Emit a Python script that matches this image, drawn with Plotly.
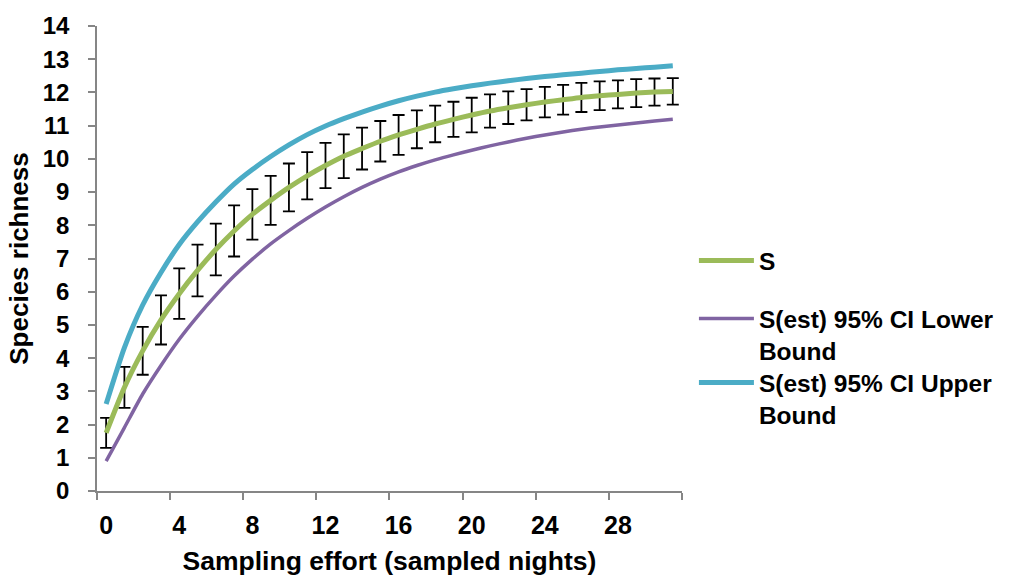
import plotly.graph_objects as go

# Sampled nights (category positions) and richness estimates
nights = list(range(32))
tick_labels = ["0", "4", "8", "12", "16", "20", "24", "28"]
tick_positions = [0, 4, 8, 12, 16, 20, 24, 28]

s_obs = [1.75, 3.12, 4.22, 5.15, 5.94, 6.64, 7.27, 7.83, 8.33, 8.75,
         9.14, 9.49, 9.80, 10.08, 10.31, 10.53, 10.72, 10.89, 11.05, 11.19,
         11.32, 11.44, 11.54, 11.63, 11.71, 11.78, 11.85, 11.90, 11.94, 11.98,
         12.01, 12.03]
s_err = [0.45, 0.62, 0.72, 0.74, 0.76, 0.78, 0.78, 0.77, 0.76, 0.74,
         0.72, 0.71, 0.68, 0.66, 0.63, 0.61, 0.60, 0.57, 0.55, 0.53,
         0.52, 0.50, 0.49, 0.47, 0.46, 0.45, 0.44, 0.43, 0.42, 0.42,
         0.41, 0.40]
ci_lower = [0.90, 1.91, 2.92, 3.78, 4.57, 5.26, 5.89, 6.47, 6.98, 7.44,
            7.84, 8.21, 8.55, 8.86, 9.14, 9.39, 9.61, 9.80, 9.97, 10.12,
            10.26, 10.39, 10.51, 10.62, 10.72, 10.81, 10.89, 10.96, 11.02, 11.08,
            11.14, 11.19]
ci_upper = [2.62, 4.32, 5.60, 6.58, 7.42, 8.10, 8.70, 9.24, 9.68, 10.07,
            10.42, 10.73, 10.99, 11.21, 11.41, 11.59, 11.75, 11.89, 12.01, 12.11,
            12.20, 12.28, 12.35, 12.42, 12.48, 12.53, 12.58, 12.63, 12.68, 12.72,
            12.76, 12.80]

GREEN = "#9BBB59"
PURPLE = "#8064A2"
CYAN = "#4BACC6"
AXIS = "#868686"
FONT = "Liberation Sans, Arial, sans-serif"

fig = go.Figure()
fig.add_trace(go.Scatter(
    x=nights, y=s_obs, mode="lines", name="S",
    line=dict(color=GREEN, width=5, shape="spline", smoothing=0.6),
    error_y=dict(type="data", array=s_err, visible=True,
                 color="black", thickness=1.8, width=6),
    legend="legend", showlegend=True,
))
fig.add_trace(go.Scatter(
    x=nights, y=ci_lower, mode="lines", name="S(est) 95% CI Lower<br>Bound",
    line=dict(color=PURPLE, width=3.5, shape="spline", smoothing=0.6),
    legend="legend2", showlegend=True,
))
fig.add_trace(go.Scatter(
    x=nights, y=ci_upper, mode="lines", name="S(est) 95% CI Upper<br>Bound",
    line=dict(color=CYAN, width=5, shape="spline", smoothing=0.6),
    legend="legend3", showlegend=True,
))


def legend_box(top_px):
    # one legend block per series, stacked down the right-hand side
    return dict(
        xref="container", yref="container",
        x=0.683, y=1 - top_px / 583, xanchor="left", yanchor="top",
        font=dict(size=24.5, family=FONT, weight="bold"),
        valign="top", itemwidth=55, bgcolor="rgba(0,0,0,0)",
    )


fig.update_layout(
    width=1016, height=583,
    margin=dict(l=97, r=274, t=21, b=87),
    plot_bgcolor="white", paper_bgcolor="white",
    font=dict(family=FONT, color="black", size=25, weight="bold"),
    showlegend=True,
    legend=legend_box(238),
    legend2=legend_box(296),
    legend3=legend_box(360),
    xaxis=dict(
        range=[-0.5, 31.5], showgrid=False, zeroline=False,
        showline=True, linecolor=AXIS, linewidth=1.5,
        tickmode="array", tickvals=tick_positions, ticktext=tick_labels,
        ticks="", ticklabelstandoff=11,
        tickfont=dict(size=25, family=FONT, weight="bold"),
        minor=dict(tickmode="linear", tick0=-0.5, dtick=4, ticks="outside",
                   ticklen=7, tickwidth=1.5, tickcolor=AXIS),
        title=dict(text="Sampling effort (sampled nights)", standoff=14,
                   font=dict(size=26.5, family=FONT, weight="bold")),
    ),
    yaxis=dict(
        range=[0, 14], dtick=1, showgrid=False, zeroline=False,
        showline=True, linecolor=AXIS, linewidth=1.5,
        ticks="outside", ticklen=7, tickwidth=1.5, tickcolor=AXIS,
        ticklabelstandoff=14,
        tickfont=dict(size=24, family=FONT, weight="bold"),
        title=dict(text="Species richness", standoff=7,
                   font=dict(size=26, family=FONT, weight="bold")),
    ),
)

fig.write_html("out.html")
